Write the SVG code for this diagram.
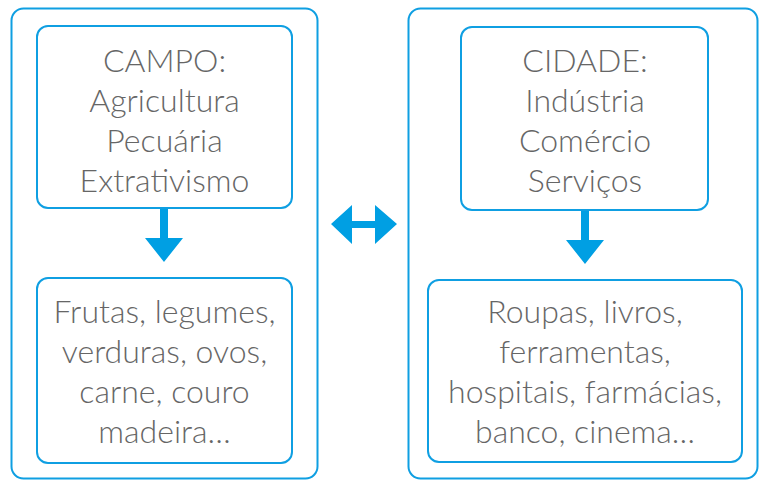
<svg xmlns="http://www.w3.org/2000/svg" width="759" height="480" viewBox="0 0 759 480">
<style>
.outer{fill:#fff;stroke:#0f9fe2;stroke-width:2}
.box{fill:#fff;stroke:#0f9fe2;stroke-width:2}
.t{font-family:Lato,"Open Sans",sans-serif;font-weight:300;font-size:32px;fill:#666;text-anchor:middle}
.arr{fill:#009fe3}
</style>
<rect width="759" height="480" fill="#fff"/>
<g id="campo-panel"><rect class="outer" x="11.5" y="8.5" width="306" height="470" rx="12"/></g>
<g id="cidade-panel"><rect class="outer" x="408.5" y="8.5" width="349" height="470" rx="12"/></g>
<g id="campo">
<rect class="box" x="37" y="26" width="255" height="182" rx="11"/>
<text class="t" x="164.5" y="72">CAMPO:</text>
<text class="t" x="164.5" y="112">Agricultura</text>
<text class="t" x="164.5" y="152">Pecuária</text>
<text class="t" x="164.5" y="192">Extrativismo</text>
</g>
<g id="campo-produtos">
<rect class="box" x="37" y="278" width="255" height="185" rx="11"/>
<text class="t" x="164.5" y="323">Frutas, legumes,</text>
<text class="t" x="164.5" y="363">verduras, ovos,</text>
<text class="t" x="164.5" y="403">carne, couro</text>
<text class="t" x="164.5" y="443">madeira…</text>
</g>
<g id="cidade">
<rect class="box" x="461" y="27" width="247" height="183" rx="11"/>
<text class="t" x="585" y="72">CIDADE:</text>
<text class="t" x="585" y="112">Indústria</text>
<text class="t" x="585" y="152">Comércio</text>
<text class="t" x="585" y="192">Serviços</text>
</g>
<g id="cidade-produtos">
<rect class="box" x="428" y="280" width="314" height="182" rx="11"/>
<text class="t" x="585" y="323">Roupas, livros,</text>
<text class="t" x="585" y="363">ferramentas,</text>
<text class="t" x="585" y="403">hospitais, farmácias,</text>
<text class="t" x="585" y="443">banco, cinema…</text>
</g>
<g id="connectors">
<polygon class="arr" points="160,209 168,209 168,238 183,238 164,262 145,238 160,238"/>
<polygon class="arr" points="581,211 589,211 589,240 604,240 585,264 566,240 581,240"/>
<polygon class="arr" points="331,224 352,205 352,221 375,221 375,205 397,224 375,244 375,228 352,228 352,244"/>
</g>
</svg>
